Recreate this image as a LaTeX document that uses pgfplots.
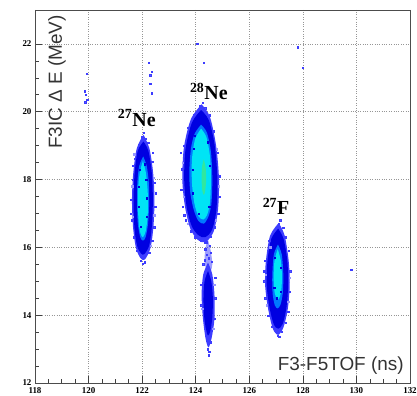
\documentclass[border=0pt]{standalone}
\usepackage{pgfplots}
\pgfplotsset{compat=1.18}
\usepackage{fontspec}
\setmainfont{Liberation Serif}
\newfontfamily\labelsans{Liberation Sans}

\definecolor{halo}{RGB}{60,60,255}
\definecolor{pale}{RGB}{150,150,255}
\definecolor{dens1}{RGB}{0,0,225}
\definecolor{dens2}{RGB}{0,120,255}
\definecolor{dens3}{RGB}{0,228,245}
\definecolor{dens4}{RGB}{90,235,90}
\definecolor{gridgray}{RGB}{150,150,150}

\begin{document}
\begin{tikzpicture}
\begin{axis}[
  scale only axis,
  width=375bp, height=373bp,
  xmin=118, xmax=132, ymin=12, ymax=23,
  xtick={118,120,...,132}, ytick={12,14,...,22},
  minor x tick num=3, minor y tick num=3,
  tick align=inside,
  xtick pos=bottom, ytick pos=left,
  major tick length=7bp, minor tick length=4bp,
  every tick/.style={black!75, line width=0.6pt},
  axis line style={black!70, line width=0.8pt},
  grid=major,
  major grid style={gridgray, dotted, line width=0.7pt},
  /pgf/number format/assume math mode=true,
  tick label style={font=\fontsize{9}{10}\selectfont\bfseries},
  xticklabel style={yshift=-1bp},
  clip=true,
]
\coordinate (sw) at (rel axis cs:0,0);
\coordinate (ne) at (rel axis cs:1,1);

% --- 27Ne cluster ---
\addplot[draw=none, fill=halo, smooth] coordinates {
 (122.05,19.32) (122.27,18.92) (122.41,18.2) (122.46,17.4) (122.42,16.6)
 (122.31,15.98) (122.1,15.64) (121.94,15.68) (121.77,15.98) (121.66,16.6)
 (121.62,17.4) (121.67,18.2) (121.8,18.92) (122.05,19.32)};
\addplot[draw=none, fill=dens1, smooth] coordinates {
 (122.05,19.12) (122.23,18.85) (122.36,18.2) (122.4,17.4) (122.36,16.6)
 (122.26,16.05) (122.08,15.8) (121.96,15.82) (121.81,16.05) (121.71,16.6)
 (121.68,17.4) (121.72,18.2) (121.84,18.85) (122.05,19.12)};
\addplot[draw=none, fill=dens2, smooth] coordinates {
 (122.04,18.68) (122.17,18.4) (122.25,17.9) (122.26,17.3) (122.22,16.7)
 (122.13,16.3) (122.03,16.2) (121.93,16.3) (121.84,16.7) (121.81,17.3)
 (121.82,17.9) (121.89,18.4) (122.04,18.68)};
\addplot[draw=none, fill=dens3, smooth] coordinates {
 (122.03,18.55) (122.14,18.2) (122.21,17.6) (122.21,17.0) (122.14,16.5)
 (122.02,16.3) (121.91,16.5) (121.85,17.0) (121.84,17.6) (121.91,18.2)
 (122.03,18.55)};

% --- 28Ne cluster ---
\addplot[draw=none, fill=halo, smooth] coordinates {
 (124.22,20.22) (124.53,19.85) (124.76,19.0) (124.87,18.0) (124.83,17.1)
 (124.66,16.45) (124.36,16.15) (124.08,16.22) (123.8,16.55) (123.6,17.2)
 (123.5,18.0) (123.56,18.95) (123.82,19.78) (124.22,20.22)};
\addplot[draw=none, fill=dens1, smooth] coordinates {
 (124.2,20.05) (124.49,19.75) (124.71,19.0) (124.81,18.0) (124.77,17.1)
 (124.61,16.52) (124.35,16.3) (124.1,16.36) (123.85,16.63) (123.66,17.2)
 (123.57,18.0) (123.62,18.9) (123.86,19.68) (124.2,20.05)};
\addplot[draw=none, fill=dens2, smooth] coordinates {
 (124.2,19.62) (124.42,19.38) (124.57,18.8) (124.62,18.0) (124.58,17.25)
 (124.46,16.88) (124.3,16.7) (124.1,16.78) (123.93,17.1) (123.8,17.6)
 (123.76,18.2) (123.82,18.9) (123.96,19.35) (124.2,19.62)};
\addplot[draw=none, fill=dens3, smooth] coordinates {
 (124.2,19.5) (124.4,19.25) (124.53,18.7) (124.57,18.0) (124.53,17.3)
 (124.42,16.95) (124.28,16.82) (124.1,16.92) (123.95,17.3) (123.86,17.9)
 (123.86,18.6) (123.98,19.2) (124.2,19.5)};
\addplot[draw=none, fill=dens4, fill opacity=0.55, smooth] coordinates {
 (124.3,18.6) (124.37,18.35) (124.39,18.0) (124.35,17.65) (124.3,17.55)
 (124.24,17.7) (124.22,18.05) (124.24,18.4) (124.3,18.6)};

% --- tail below 28Ne ---
\addplot[draw=none, fill=halo, fill opacity=0.5, smooth] coordinates {
 (124.45,16.25) (124.56,15.9) (124.62,15.5) (124.55,15.3) (124.4,15.35)
 (124.33,15.6) (124.36,15.95) (124.45,16.25)};
\addplot[draw=none, fill=halo, smooth] coordinates {
 (124.46,15.55) (124.62,15.2) (124.7,14.6) (124.7,13.9) (124.6,13.35)
 (124.48,13.05) (124.37,13.3) (124.27,13.9) (124.22,14.6) (124.28,15.2)
 (124.46,15.55)};
\addplot[draw=none, fill=dens1, smooth] coordinates {
 (124.46,15.3) (124.58,15.0) (124.64,14.5) (124.62,13.95) (124.55,13.55)
 (124.46,13.4) (124.38,13.6) (124.31,14.0) (124.29,14.5) (124.33,15.0)
 (124.46,15.3)};

% --- 27F cluster ---
\addplot[draw=none, fill=halo, smooth] coordinates {
 (127.1,16.72) (127.32,16.35) (127.47,15.6) (127.51,14.9) (127.44,14.2)
 (127.28,13.65) (127.08,13.42) (126.88,13.6) (126.7,14.2) (126.59,14.9)
 (126.62,15.6) (126.78,16.35) (127.1,16.72)};
\addplot[draw=none, fill=dens1, smooth] coordinates {
 (127.08,16.55) (127.28,16.25) (127.42,15.6) (127.45,14.9) (127.39,14.25)
 (127.25,13.75) (127.08,13.6) (126.91,13.74) (126.75,14.25) (126.65,14.9)
 (126.68,15.6) (126.82,16.25) (127.08,16.55)};
\addplot[draw=none, fill=dens2, smooth] coordinates {
 (127.07,16.08) (127.21,15.8) (127.27,15.2) (127.25,14.65) (127.16,14.3)
 (127.05,14.2) (126.95,14.3) (126.87,14.65) (126.86,15.2) (126.92,15.8)
 (127.07,16.08)};
\addplot[draw=none, fill=dens3, smooth] coordinates {
 (127.06,15.95) (127.18,15.6) (127.22,15.1) (127.18,14.65) (127.06,14.45)
 (126.95,14.65) (126.91,15.1) (126.94,15.6) (127.06,15.95)};

% --- dark speckle inside the dense cores ---
\addplot[only marks, mark=square*, mark size=0.6pt, color=dens1,
  mark options={draw=none}] coordinates {
 (121.9,18.3) (122.15,18.0) (121.88,17.2) (122.17,16.9) (121.95,16.6)
 (122.1,18.45) (121.87,17.8) (122.18,17.45)
 (123.92,18.9) (124.45,19.1) (123.9,17.6) (124.5,17.2) (124.1,17.0)
 (123.97,19.3) (124.52,18.4) (123.88,18.3)
 (126.95,15.7) (127.17,15.4) (126.93,14.8) (127.18,14.7) (127.02,14.5)
};
% --- pale and single events ---
\addplot[only marks, mark=square*, mark size=0.7pt, color=pale,
  mark options={draw=none}] coordinates {
 (121.63,17.8) (121.64,16.9) (122.45,16.95) (122.44,18.05) (121.7,18.75)
 (122.32,16.05) (123.52,18.5) (123.55,17.5) (124.86,17.8) (124.79,18.9)
 (123.7,16.7) (124.74,16.8) (126.62,15.2) (127.5,15.1) (126.66,14.3)
 (127.46,14.4) (126.78,16.0) (124.24,14.2) (124.69,14.9) (124.66,13.6)
};
\addplot[only marks, mark=square*, mark size=0.7pt, color=halo,
  mark options={draw=none, fill opacity=0.85}] coordinates {
 (122.05,19.38) (121.98,19.25) (122.13,19.2) (121.88,19.02) (122.22,19.08)
 (121.73,18.62) (122.38,18.52) (121.64,18.0) (122.46,17.9) (121.59,17.4)
 (122.49,17.2) (121.62,16.8) (122.45,16.6) (121.69,16.3) (122.37,16.2)
 (121.8,15.9) (122.27,15.85) (121.95,15.6) (122.1,15.56) (122.02,15.52)
 (121.57,17.0) (122.51,17.6) (121.66,18.4) (122.4,18.8)
 (124.25,20.27) (124.14,20.18) (124.36,20.1) (123.93,19.92) (124.52,19.9)
 (123.72,19.52) (124.68,19.42) (123.57,19.0) (124.82,18.8) (123.49,18.3)
 (124.9,18.1) (123.46,17.7) (124.89,17.5) (123.52,17.2) (124.84,17.0)
 (123.62,16.8) (124.71,16.6) (123.82,16.48) (124.54,16.32) (123.98,16.3)
 (124.2,16.2) (124.36,16.14) (123.45,18.8) (123.57,16.95)
 (124.4,16.15) (124.52,16.05) (124.36,15.95) (124.57,15.85) (124.42,15.78)
 (124.48,15.68) (124.33,15.62) (124.6,15.58) (124.28,15.5)
 (124.45,13.0) (124.5,12.92) (124.48,12.82) (124.41,13.3) (124.56,13.2)
 (124.2,14.3) (124.73,14.5) (124.71,13.9) (124.19,14.9) (124.72,15.1)
 (127.15,16.8) (127.1,16.7) (127.26,16.58) (126.95,16.52) (127.36,16.3)
 (126.74,16.2) (127.47,15.9) (126.6,15.6) (127.53,15.3) (126.56,15.0)
 (127.51,14.7) (126.6,14.5) (127.45,14.1) (126.7,13.98) (127.36,13.78)
 (126.84,13.66) (127.2,13.52) (127.05,13.4) (127.12,13.36) (126.53,15.3)
 (119.9,20.5) (119.86,20.6) (119.95,20.35) (119.92,21.12) (119.88,20.28)
 (122.25,21.45) (122.35,21.18) (122.3,21.08) (122.3,20.82) (122.35,20.55)
 (124.3,21.45) (124.05,22.0) (127.8,21.9) (128.0,21.3) (129.8,15.35)
};

% isotope labels
\node[anchor=base, font=\fontsize{20}{22}\selectfont\bfseries] at (axis cs:121.8,19.57)
  {\textsuperscript{27}Ne};
\node[anchor=base, font=\fontsize{20}{22}\selectfont\bfseries] at (axis cs:124.49,20.36)
  {\textsuperscript{28}Ne};
\node[anchor=base, font=\fontsize{20}{22}\selectfont\bfseries] at (axis cs:127.0,16.96)
  {\textsuperscript{27}F};

% axis titles set inside the frame
\node[anchor=base east, rotate=90, inner sep=0pt, text=black!80,
  font=\labelsans\fontsize{19}{21}\selectfont] at (axis cs:119.0,22.85)
  {F3IC Δ E (MeV)};
\node[anchor=base east, inner sep=0pt, text=black!80,
  font=\labelsans\fontsize{19}{21}\selectfont] at (axis cs:131.77,12.38)
  {F3-F5TOF (ns)};
\end{axis}
\pgfresetboundingbox
\path ([shift={(-35bp,-13bp)}]sw) rectangle ([shift={(7bp,10bp)}]ne);
\end{tikzpicture}
\end{document}
